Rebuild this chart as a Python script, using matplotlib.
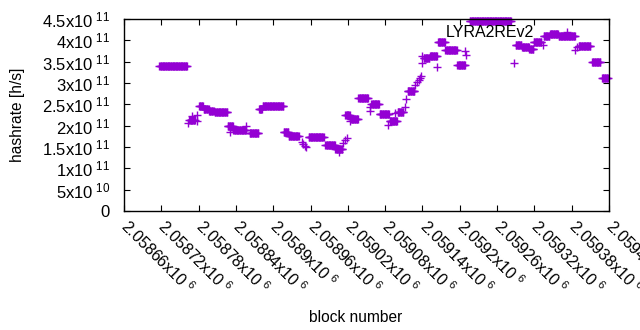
import numpy as np
import matplotlib
matplotlib.use("Agg")
import matplotlib.pyplot as plt
from matplotlib.transforms import ScaledTranslation

plt.rcParams['font.family'] = ['Liberation Sans', 'DejaVu Sans']
plt.rcParams['mathtext.default'] = 'regular'

# runs of blocks with the same hashrate (first block, last block, hashrate / 1e11)
run_first = [2058717, 2058765, 2058781, 2058788, 2058797, 2058806, 2058827, 2058836,
             2058862, 2058877, 2058883, 2058917, 2058925, 2058957, 2058984, 2059000,
             2059016, 2059025, 2059037, 2059058, 2059071, 2059087, 2059100, 2059116,
             2059142, 2059152, 2059165, 2059177, 2059196, 2059216, 2059290, 2059300,
             2059312, 2059319, 2059335, 2059345, 2059359, 2059391, 2059413, 2059429]
run_last = [2058761, 2058774, 2058787, 2058796, 2058804, 2058826, 2058835, 2058856,
            2058876, 2058882, 2058916, 2058924, 2058941, 2058981, 2058999, 2059011,
            2059023, 2059036, 2059052, 2059070, 2059086, 2059099, 2059109, 2059127,
            2059151, 2059163, 2059176, 2059195, 2059208, 2059282, 2059299, 2059311,
            2059318, 2059331, 2059344, 2059358, 2059385, 2059410, 2059426, 2059438]
run_rate = [3.39, 2.14, 2.46, 2.40, 2.34, 2.31, 1.99, 1.91,
            1.83, 2.40, 2.45, 1.84, 1.76, 1.745, 1.55, 1.46,
            2.25, 2.16, 2.64, 2.50, 2.27, 2.11, 2.31, 2.82,
            3.59, 3.63, 3.96, 3.77, 3.42, 4.46, 3.90, 3.855,
            3.80, 3.96, 4.09, 4.14, 4.11, 3.87, 3.49, 3.12]

# single blocks
pt_block = [2058763, 2058770, 2058777, 2058778, 2058830, 2058856, 2058946, 2058948,
            2058951, 2058953, 2059006, 2059013, 2059015, 2059019, 2059024, 2059055,
            2059056, 2059085, 2059096, 2059112, 2059113, 2059128, 2059131, 2059134,
            2059136, 2059138, 2059139, 2059140, 2059164, 2059209, 2059210, 2059288,
            2059334, 2059385, 2059388]
pt_rate = [2.07, 2.22, 2.11, 2.25, 1.86, 2.00, 1.62, 1.58,
           1.535, 1.50, 1.39, 1.59, 1.66, 1.70, 2.10, 2.34,
           2.44, 2.02, 2.30, 2.44, 2.62, 2.95, 3.03, 3.08,
           3.11, 3.16, 3.64, 3.47, 3.38, 3.75, 3.66, 3.46,
           3.89, 3.77, 3.85]

blocks = list(pt_block)
rates = list(pt_rate)
for a, b, r in zip(run_first, run_last, run_rate):
    for blk in range(a, b + 1):
        blocks.append(blk)
        rates.append(r)
blocks = np.array(blocks)
rates = np.array(rates) * 1e11

x_ticks = np.arange(2058660, 2059441, 60)
y_ticks = np.arange(0, 4.51e11, 0.5e11)


def sci(v):
    if v == 0:
        return '0'
    e = int(np.floor(np.log10(v) + 1e-9))
    return f'{v / 10**e:g}x10$^{{\\ {e}}}$'


fig = plt.figure(figsize=(6.4, 3.3), dpi=100)
ax = fig.add_axes([124 / 640, 1 - 211 / 330, 485 / 640, 192 / 330])

ax.plot(blocks, rates, '+', color='#9400d3', ms=5.4, mew=1.0, label='LYRA2REv2',
        clip_on=False)

ax.set_xlim(2058660, 2059440)
ax.set_ylim(0, 4.5e11)
ax.set_xticks(x_ticks)
ax.set_xticklabels([sci(v) for v in x_ticks], rotation=-45, ha='left', va='center',
                   rotation_mode='anchor', fontsize=11.5)
shift = ScaledTranslation(5 / 100, 0, fig.dpi_scale_trans)
for lab in ax.get_xticklabels():
    lab.set_transform(lab.get_transform() + shift)
ax.set_yticks(y_ticks)
ax.set_yticklabels([sci(v) for v in y_ticks], fontsize=12)
ax.tick_params(direction='in', top=True, right=True, length=4, width=0.8)
ax.tick_params(axis='y', pad=10)
ax.tick_params(axis='x', pad=9)
for s in ax.spines.values():
    s.set_linewidth(1)

ax.set_xlabel('block number', fontsize=11.2)
ax.xaxis.set_label_coords((356 - 124) / 485, -0.515)
ax.set_ylabel('hashrate [h/s]', fontsize=11.2)
ax.yaxis.set_label_coords(-0.205, 0.5)

ax.legend(loc='upper right', bbox_to_anchor=((585 - 124) / 485, 1.0), frameon=False,
          markerfirst=False, handlelength=1.5, handletextpad=1.3, fontsize=11.5,
          borderaxespad=0)

fig.savefig('out.png', dpi=100)
